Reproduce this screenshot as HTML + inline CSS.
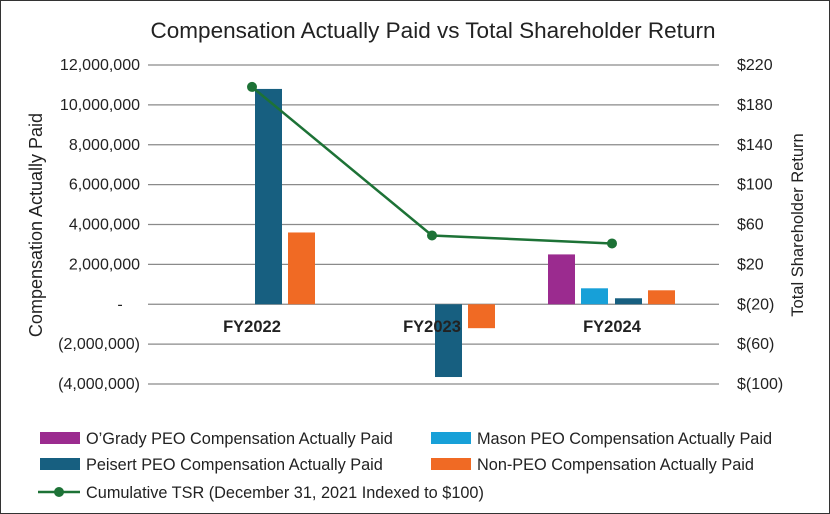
<!DOCTYPE html>
<html><head><meta charset="utf-8"><style>
body{margin:0;background:#fff;}
svg{display:block;font-family:"Liberation Sans",Arial,sans-serif;}
</style></head><body>
<svg id="chart" width="830" height="514" viewBox="0 0 830 514">
<rect x="0.5" y="0.5" width="829" height="513" fill="#fff" stroke="#333" stroke-width="1"/>
<text x="433" y="38" font-size="22.5" text-anchor="middle" fill="#222">Compensation Actually Paid vs Total Shareholder Return</text>
<g id="grid"></g><g id="bars"></g><g id="line"></g><g id="axes"></g>
<text transform="translate(42,225) rotate(-90)" font-size="18" text-anchor="middle" fill="#222">Compensation Actually Paid</text>
<text transform="translate(803,225) rotate(-90)" font-size="16.5" text-anchor="middle" fill="#222">Total Shareholder Return</text>
<g font-size="16.3" fill="#222">
<rect x="40" y="432" width="40" height="12" fill="#9b2b8f"/>
<text x="86" y="444">O’Grady PEO Compensation Actually Paid</text>
<rect x="431" y="432" width="40" height="12" fill="#17a0d8"/>
<text x="477" y="444">Mason PEO Compensation Actually Paid</text>
<rect x="40" y="458" width="40" height="12" fill="#175f80"/>
<text x="86" y="470">Peisert PEO Compensation Actually Paid</text>
<rect x="431" y="458" width="40" height="12" fill="#f06a24"/>
<text x="477" y="470">Non-PEO Compensation Actually Paid</text>
<line x1="38" y1="492" x2="80" y2="492" stroke="#1d7236" stroke-width="2.5"/>
<circle cx="59" cy="492" r="5" fill="#1d7236"/>
<text x="86" y="498">Cumulative TSR (December 31, 2021 Indexed to $100)</text>
</g>
</svg>
<script>
const categories = ["FY2022","FY2023","FY2024"];
const ogrady = [null, null, 2500000];
const mason = [null, null, 800000];
const peisert = [10800000, -3650000, 300000];
const nonPeo = [3600000, -1200000, 700000];
const tsr = [198, 49, 41];
const leftTicks = [12000000,10000000,8000000,6000000,4000000,2000000,0,-2000000,-4000000];
const leftTickLabels = ["12,000,000","10,000,000","8,000,000","6,000,000","4,000,000","2,000,000","-","(2,000,000)","(4,000,000)"];
const rightTicks = [220,180,140,100,60,20,-20,-60,-100];
const rightTickLabels = ["$220","$180","$140","$100","$60","$20","$(20)","$(60)","$(100)"];

const NS="http://www.w3.org/2000/svg";
const X0=148,X1=719,TOP=65,BOT=384;
const yL=v=>TOP+(12000000-v)/16000000*(BOT-TOP);
const yR=v=>TOP+(220-v)/320*(BOT-TOP);
const xC=i=>252+i*180;
function mk(tag,attrs,parent){const e=document.createElementNS(NS,tag);for(const k in attrs)e.setAttribute(k,attrs[k]);parent.appendChild(e);return e;}
const grid=document.getElementById('grid'),axes=document.getElementById('axes'),bars=document.getElementById('bars'),lineG=document.getElementById('line');
leftTicks.forEach((t,i)=>{
  const y=yL(t);
  const l=mk('line',{x1:X0,x2:X1,y1:y,y2:y,stroke:'#8a8a8a','stroke-width':1.3},grid);
  
  
  const tx=mk('text',{x:t===0?120:140,y:y+5,'font-size':16,'text-anchor':t===0?'middle':'end',fill:'#222'},axes);
  tx.textContent=leftTickLabels[i];
  
  
});
rightTicks.forEach((t,i)=>{
  const tx=mk('text',{x:737,y:yR(t)+5,'font-size':16,fill:'#222'},axes);
  tx.textContent=rightTickLabels[i];
  
  
});
const series=[[ogrady,'#9b2b8f','ogrady',-64],[mason,'#17a0d8','mason',-31],[peisert,'#175f80','peisert',3],[nonPeo,'#f06a24','nonpeo',36]];
series.forEach(([arr,col,nm,off])=>{
  arr.forEach((v,i)=>{
    if(v===null)return;
    const y0=yL(0),y1=yL(v);
    const r=mk('rect',{x:xC(i)+off,y:Math.min(y0,y1),width:27,height:Math.abs(y1-y0),fill:col},bars);
    
    
  });
});
categories.forEach((c,i)=>{
  const tx=mk('text',{x:xC(i),y:332,'font-size':16.5,'font-weight':'bold','text-anchor':'middle',fill:'#222'},axes);
  tx.textContent=c;
  
  
});
const pts=tsr.map((v,i)=>xC(i)+','+yR(v)).join(' ');
const pl=mk('polyline',{points:pts,fill:'none',stroke:'#1d7236','stroke-width':2.5},lineG);


tsr.forEach((v,i)=>{
  const c=mk('circle',{cx:xC(i),cy:yR(v),r:5,fill:'#1d7236'},lineG);
  
  
});
</script>
</body></html>
